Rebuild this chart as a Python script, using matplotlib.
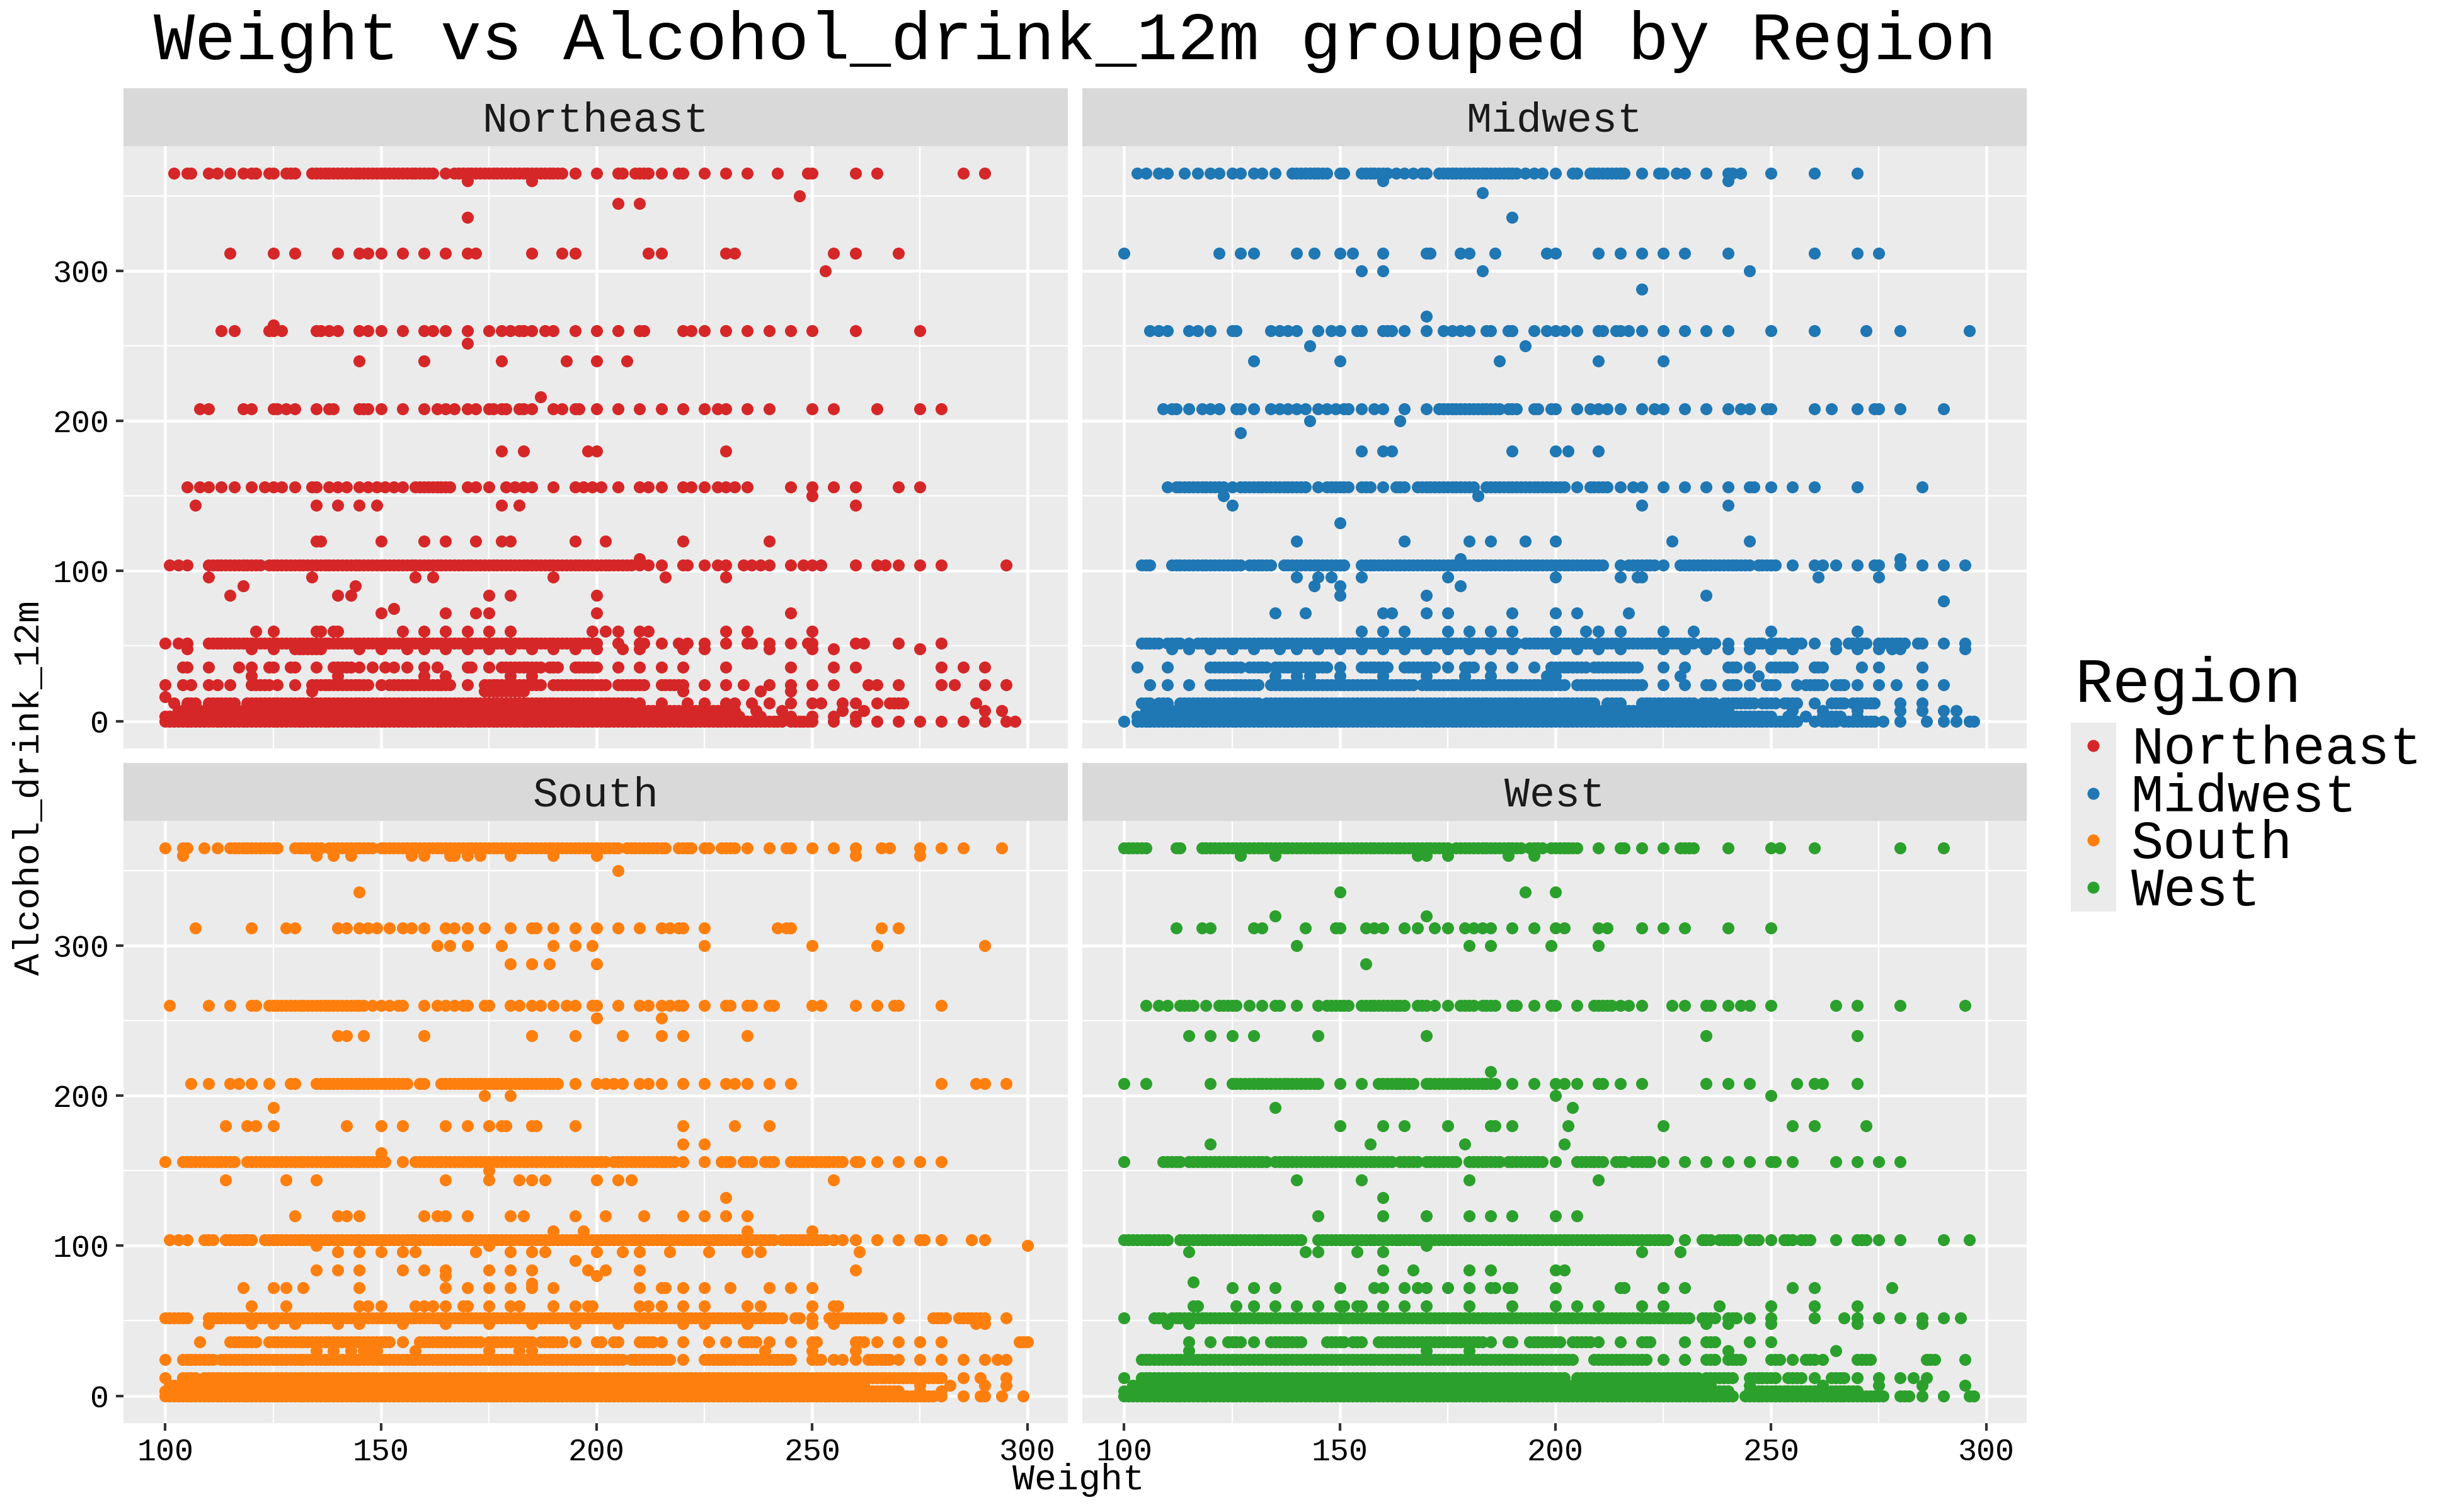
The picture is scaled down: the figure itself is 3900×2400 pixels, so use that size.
import matplotlib
matplotlib.use("Agg")
import matplotlib.pyplot as plt

# region order, colours
regions = ["Northeast", "Midwest", "South", "West"]
colors = ["#d62728", "#1f77b4", "#ff7f0e", "#2ca02c"]

# (Alcohol_drink_12m level, weights seen on that level); "a-b" = every weight a..b
northeast = [
    (365, "102 105 106 110 112 115 118 120-121 124-125 128-130 134-162 165 167-192 195 200 205-206 209-212 215 219-220 225 230 235 242 249-250 260 265 285 290"),
    (360, "170 185"), (350, "247"), (345, "205 210"), (336, "170"),
    (312, "115 125 130 140 145 147 150 155 160 165 170 172 185 192 195 212 215 230 232 255 260 270"),
    (300, "253"), (264, "125"),
    (260, "113 116 124-125 127 135-136 138 140 145 147 150 155 160 162 165 170 175 178 180 182-183 185 188 190 195 200 205 210-211 220 222 225 230 235 240 245 250 260 275"),
    (252, "170"), (240, "145 160 178 193 200 207"), (216, "187"),
    (208, "108 110 118 120 125-126 128 130 135 138-139 145-147 150 155 160 163 165 167 170 172 175-176 178-179 182-183 185 190 192 195-196 200 205 210 215 220 225 228 230 235 240 250 255 265 275 280"),
    (180, "178 183 198 200 230"),
    (156, "105 108 110 113 116 120 123 125 127 130 134-135 138 140 142 145 147 149 151 153 155 158-166 170 172 175 179 181 183 185 190 195 197 199 201 205 210 212 215 220 222 225 228 230 232 235 245 250 255 260 270 275"),
    (150, "250"), (144, "107 135 140 145 149 178 182 260"),
    (120, "135-136 150 160 165 172 178 180 195 202 220 240"), (108, "210"),
    (104, "101 103 105 110-122 124-208 210 212 215 220-221 225 228 230 234 236 238 240 245 248 250 252 260 265 267 270 275 280 295"),
    (96, "110 134 158 162 190 216 230"), (90, "118 144"), (84, "115 140 143 175 180 200"),
    (75, "153"), (72, "150 165 172 175 200 245"),
    (60, "121 125 135-136 139-140 155 160 165 170 175 180 199 202 205 210 212 230 235 250"),
    (52, "100 103 105 110-200 205 210-211 215 219 221 225 230 235-236 240 245 249-250 260 262 270 280"),
    (48, "105 120 125 130-136 145 150 156 160 165 170 175 180 185 190 195 200 206 210 220 225 240 250 255 275"),
    (36, "104 105 110 117 120 124-125 129-130 135 139-143 145 148 151 153 156 160 163 170-171 175 178-187 189-191 195-200 205 210 215 220 230 245 255 260 280 285 290"),
    (30, "120 140 160 165 180 185"),
    (24, "100 104 106 110 112 115 120-124 126 130 134-147 150 152-166 170 174-187 190-202 205-211 215-220 225 230 234 240 245 250 255 263 265 270 280 283 290 295"),
    (20, "134 174-183 220 238 245"), (16, "100"),
    (12, "102 105-107 110-116 119-208 210 215 221 225 230 232 236 240 245 250 252 257 260 265 268-271 288"),
    (7, "103-232 237 243 257 262 290 294"),
    (3, "100-230 233 238 245 250 255 260"),
    (0, "100-243 245-250 255 260 265 270 275 280 285 290 295 297"),
]

midwest = [
    (365, "103 105 108 110 114 117 120 122 125 127 130 132 135 139-147 150-151 155-161 163 165 167 169-170 173-191 193 195 197 200 204-205 208-216 220 224-225 228 230 235 240-241 243 250 260 270"),
    (360, "160 240"), (352, "183"), (336, "190"),
    (312, "100 122 127 130 140 144 150 153 160 170-171 178 180 186 198 200 210 215 220 225 230 240 260 270 275"),
    (300, "155 160 183 245"), (288, "220"), (270, "170"),
    (260, "106 108 110 115 117 120 125-126 134 136 138 140 145 148 150 154-155 160-162 165 170 174 176 178 180 184-185 189-190 195 198 200 202 205 210-211 214-215 217 220 225 230 235 240 250 260 272 280 296"),
    (250, "143 193"), (240, "130 150 187 210 225"),
    (208, "109 111-112 115 118 120 122 126-127 130 134 136 138 140 142 145 147 149 151-152 155 158 160 165 170 173-187 189-191 195-196 199-200 205 208 210 212 215 220 223 225 230 235 240 243 245 249-250 260 264 270 274-275 280 290"),
    (200, "143 164"), (192, "127"), (180, "155 160 162 190 200 203 210"),
    (156, "110 112-123 125 127-142 145 147-152 155-157 160 163-165 168-181 184-202 205 208-212 215 218 220 225 230 235 240 245-246 250 255 260 270 285"),
    (150, "123 182"), (144, "125 220 240"), (132, "150"),
    (120, "140 165 180 185 193 200 227 245"), (108, "178 280"),
    (104, "104-106 111-127 129-134 137-151 155-211 215 217-223 225 229-245 247-251 255 260 262 265 270 274-275 280 285 290 295"),
    (96, "140 145 148 155 175 200 215 219-220 261 275"), (90, "144 150 178"),
    (84, "150 170 235"), (80, "290"), (72, "135 142 160 162 170 175 190 200 205 217"),
    (60, "155 160 165 175 180 185 190 200 207 210 215 225 232 250 270"),
    (52, "104-108 110-113 115 117-191 193-208 210-232 234-237 240 245-248 250-253 255-257 260 265 268-272 275-281 284-285 290 295"),
    (48, "111 115 120 125 130 136 140 145 150 155 160 165 170 175 180 185 190 200 205 210 215 225 230 235 240 245 250 255 265 270 275 278 280 295"),
    (36, "103 110 120-127 129-133 135-147 150 155-161 165-172 175 179-181 185 190 195 199-207 209-219 225 230 240-242 245 250-255 260-262 271 275 285"),
    (30, "135 140 143 150 160 170 179 185 198 200 229 247"),
    (24, "106 110 115 120-131 134-167 169-202 205-220 225 230 235-236 240-242 245 249-251 256 258-262 265-267 270 275 279 285 290"),
    (12, "104-106 108-110 113-131 133-209 212-215 220-232 234-237 239-246 248-251 253-256 260 264-267 269-274 280 285"),
    (7, "105-238 240 255 262 270 280 285 290 293"),
    (3, "103-250 254 258 262-266 270"),
    (0, "100 103-256 260 262-265 267-274 276 280 286 290 293 296 297"),
]

south = [
    (365, "100 104-105 109 112 115-126 130-136 138-148 150-205 207-216 219-222 225-226 229-232 235 240 244-245 250 255 260 266 268 275 280 285 294"),
    (360, "104 135 139 143 157 160 166-167 170 173 180 190 200 260 275"),
    (350, "205"), (336, "145"),
    (312, "107 120 128 130 140 142 145 147 149 152 155 157 160 165 167 170 174 180 185-186 190 195 200 205 210 215 217 219-220 225 242 244-245 266 270"),
    (300, "163 166 170 178 190 195 199 225 250 265 290"), (288, "180 185 189 200"),
    (260, "101 110 115 120-121 124-146 148 150 152 154-155 160 163 165 167 169-170 174-175 180 182 185 187 190 193 195 199-200 205 210 212 215 217 219-220 225 230-231 235-236 240-241 250 252 260 265 269-270 280"),
    (252, "200 215"), (240, "140 142 146 160 185 195 206 215 220 235"),
    (208, "106 110 115 117 120 124 129-130 135-156 159-160 164-191 195 200 202 204 206 210 212 215 220 225 230 232 235 240 245 280 288 290 295"),
    (200, "174 180"), (192, "125"),
    (180, "114 119 121 125 142 150 155 165 170 175 178-179 185-186 195 220 232 240"),
    (168, "220 225"), (162, "150"),
    (156, "100 104-116 119-151 155 158-202 204-218 220 225 229-231 234-236 239-241 245-257 260-261 265 270 275 280"),
    (150, "175"), (144, "114 128 135 165 175 182 185 188 200 205 208 255"), (132, "230"),
    (120, "130 140 142 145 160 163 165 170 180 183 195 202 211 220 225 230 235"),
    (110, "190 197 235 250"),
    (104, "101 103 105 109-111 114-120 123-241 243-253 255 257 260 265 270 275-276 280 287 290"),
    (100, "135 175 300"),
    (96, "140 145 150 155 158 172 180 185 188 200 206 210 217 226 235 238 261"), (90, "195"),
    (84, "135 140 145 155 160 165 175 180 185 198 202 210 260"), (80, "165 200"), (75, "185"),
    (72, "118 125 128 132 145 165 170 175 180 185 190 210 215-216 220 225 231 240 245 250"),
    (60, "120 128 145 147 150 158 160 162 165 169-170 175 180 182 190 195 198-199 210 212 215 220 225 235 238 250 255-256"),
    (52, "100-105 110-243 246-247 250 254-266 270 278-281 284-290 295"),
    (48, "110 120 125 130 140 145 155 165 175 185 195 205 220 225 235 250 255 288 290"),
    (36, "108 115-121 124-152 155 159-173 175-185 187-192 195 200-201 204-205 210-213 215 220 226 230 234-237 240 245 250-251 260-262 265 270 275 280 298-300"),
    (30, "135 139 143 146-149 158 175 182 185 239 250 260"),
    (24, "100 104-111 113-206 208-217 220 225-245 250-252 255 257 260 263-268 270 275 280 285 290 293 295"),
    (12, "100 104-107 109-280 285 289 295"),
    (7, "101-262 275 282 290 295"),
    (3, "100-270 275 280"),
    (0, "100-278 280 285 289 290 294 299"),
]

west = [
    (365, "100-105 112-113 118-175 177-192 194-197 199-205 210 215-216 220 225 229-232 240 250 252 260 280 290"),
    (360, "127 135 168 170 175 189 195"), (336, "150 193 200"), (320, "135 170"),
    (312, "112 118 120 130 132 142 149-150 156 158 160 165 168 172 175 179 181 183 185 190 195 200 202 210 212 220 225 230 240 250"),
    (300, "140 180 185 199 210"), (288, "156"),
    (260, "105 108 110 113-116 119 122-126 129 132 135-136 140 145 147-152 155-165 168-170 172 175 178-181 183-186 190-191 195 199-200 205 209-213 215 217 220 227 230 235-236 240 243 245 250 265 270 280 295"),
    (240, "115 120 125 130 145 170 235 270"), (216, "185"),
    (208, "100 105 120 125-145 150 155 159-167 170-186 190 195 200 202 205 210-211 215 220 235 240 245 256 260 262 270"),
    (200, "200 250"), (192, "135 204"),
    (180, "150 160 165 175 185-186 190 203 225 255 260 272"), (168, "120 157 179 202"),
    (156, "100 109-113 115-133 135-162 164-168 170-177 180-187 189-197 200 205-211 214-216 218-222 225 230 235 240 245 250-251 255 265 270 275 280"),
    (144, "140 155 180 210"), (132, "160"), (120, "145 160 170 180 185 190 200 205"),
    (104, "100-110 113-141 145-226 230 234-236 238-242 245-247 250 253-255 257-259 265 270-272 275 280 290 296"),
    (100, "170"), (96, "115 142 145 154 160 220 229"), (84, "160 167 180 185 200 202"), (76, "116"),
    (72, "125 130 135 150 158 160 165 168 170 175 180 185-186 189-190 200 215-216 225 230 255 260 278"),
    (60, "116-117 126 130 135 140 145 150-151 154-155 160 165 170 180 190 200 205 210 220 225 238 250 260 270"),
    (52, "100 107-109 111-231 234-237 240-242 245 250 260 267 270 275 280 285 290 294"),
    (48, "110 115 235 240 250 270 285"),
    (36, "115 120 124-127 130 134-141 147-151 153-155 159-183 185 189-190 194-201 204-208 210 215 220-222 230 235-237 245 250"),
    (30, "115 170 180 240 265"),
    (24, "104-204 209-221 225 230 235-237 240-243 250-252 255 258-260 262 270-273 286-288 295"),
    (12, "100 104-202 205-233 235-241 245-251 254-257 260 264-267 270 275 280 283 286"),
    (7, "102-236 245 262 275 285 295"),
    (3, "100-240 245-270"),
    (0, "100-241 244-276 280-282 285 290 296-297"),
]

x_ticks = [100, 150, 200, 250, 300]
y_ticks = [0, 100, 200, 300]


def expand(spec):
    out = []
    for tok in spec.split():
        if "-" in tok:
            a, b = tok.split("-")
            out.extend(range(int(a), int(b) + 1))
        else:
            out.append(int(tok))
    return out


def points(rows):
    xs, ys = [], []
    for level, spec in rows:
        w = expand(spec)
        xs.extend(w)
        ys.extend([level] * len(w))
    return xs, ys


plt.rcParams["font.family"] = ["Liberation Mono", "DejaVu Sans Mono"]

W, H = 3900, 2400
fig = plt.figure(figsize=(13, 8), dpi=300)

def box(x0, y0, x1, y1):
    # pixel box (from top-left) -> figure fraction rect
    return [x0 / W, 1 - y1 / H, (x1 - x0) / W, (y1 - y0) / H]

panel_x = [(196, 1695), (1718, 3217)]
panel_y = [(232, 1188), (1303, 2259)]
strip_y = [(140, 232), (1211, 1303)]

data = [northeast, midwest, south, west]

for i, (name, col, rows) in enumerate(zip(regions, colors, data)):
    r, c = divmod(i, 2)
    x0, x1 = panel_x[c]
    y0, y1 = panel_y[r]
    ax = fig.add_axes(box(x0, y0, x1, y1))
    ax.set_facecolor("#EBEBEB")
    xs, ys = points(rows)
    ax.scatter(xs, ys, s=21, color=col, linewidths=0, zorder=3)
    ax.set_xlim(90.3, 309.3)
    ax.set_ylim(-18.25, 383.25)
    ax.set_xticks(x_ticks)
    ax.set_xticks([125, 175, 225, 275], minor=True)
    ax.set_yticks(y_ticks)
    ax.set_yticks([50, 150, 250, 350], minor=True)
    ax.grid(which="major", color="white", linewidth=1.1)
    ax.grid(which="minor", color="white", linewidth=0.55)
    ax.set_axisbelow(True)
    for sp in ax.spines.values():
        sp.set_visible(False)
    ax.tick_params(which="minor", length=0)
    ax.tick_params(which="major", length=2.9, width=1.0, color="#333333",
                   labelsize=12, labelcolor="black", pad=2.5)
    if r == 0:
        ax.tick_params(axis="x", which="major", length=0, labelbottom=False)
    if c == 1:
        ax.tick_params(axis="y", which="major", length=0, labelleft=False)

    sy0, sy1 = strip_y[r]
    sax = fig.add_axes(box(x0, sy0, x1, sy1))
    sax.set_facecolor("#D9D9D9")
    sax.set_xticks([])
    sax.set_yticks([])
    for sp in sax.spines.values():
        sp.set_visible(False)
    sax.text(0.5, 0.44, name, ha="center", va="center", fontsize=16,
             color="#1A1A1A", transform=sax.transAxes)

fig.text(1706 / W, 1 - 94 / H, "Weight vs Alcohol_drink_12m grouped by Region",
         ha="center", va="baseline", fontsize=26)
fig.text(1712 / W, 1 - 2349 / H, "Weight", ha="center", va="center", fontsize=14)
fig.text(47 / W, 1 - 1250 / H, "Alcohol_drink_12m", ha="center", va="center",
         rotation=90, fontsize=14)

# legend
fig.text(3293 / W, 1 - 1114 / H, "Region", ha="left", va="baseline", fontsize=24)
lax = fig.add_axes(box(3287, 1147, 3359, 1447))
lax.set_facecolor("#EBEBEB")
lax.set_xlim(0, 1)
lax.set_ylim(1447, 1147)
key_y = [1184, 1260, 1334, 1409]
lax.scatter([0.5] * 4, key_y, s=21, c=colors, linewidths=0)
lax.set_xticks([])
lax.set_yticks([])
for sp in lax.spines.values():
    sp.set_visible(False)
for name, ky in zip(regions, key_y):
    fig.text(3383 / W, 1 - (ky + 6) / H, name, ha="left", va="center", fontsize=20.5)

fig.savefig("out.png", dpi=300)
